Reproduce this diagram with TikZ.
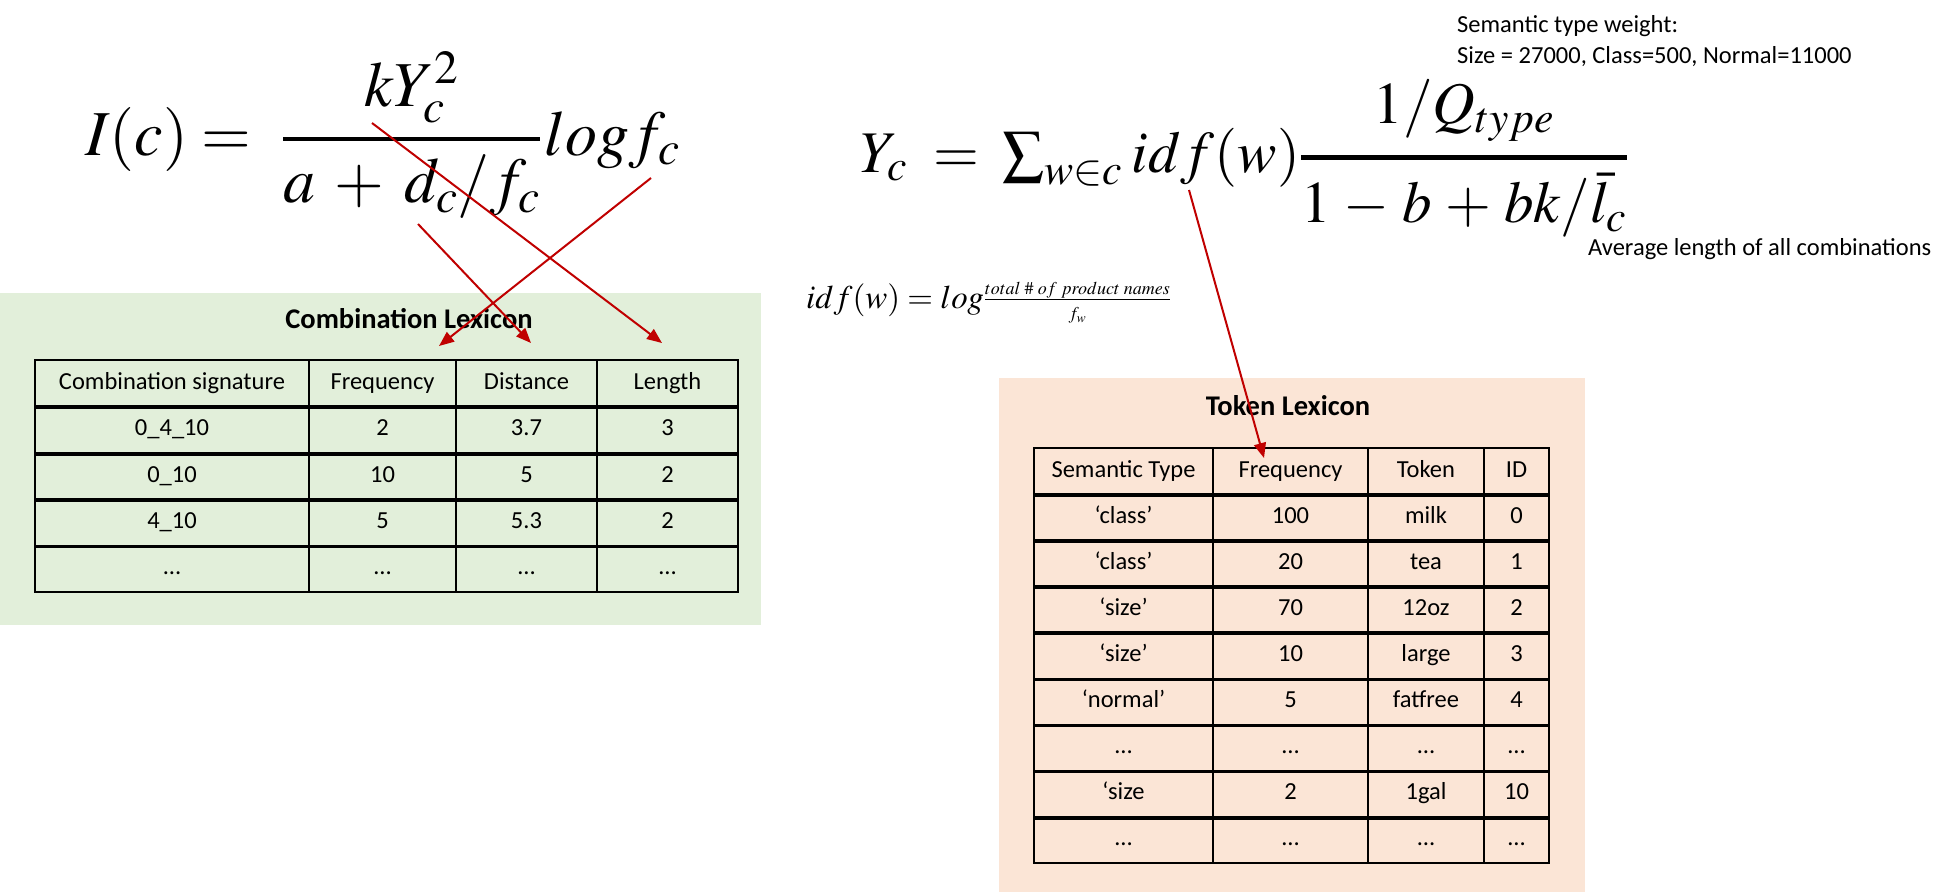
\documentclass[tikz,border=0pt]{standalone}
\usepackage{amsmath}
\usepackage{mathptmx}
\usepackage[no-math]{fontspec}
\setmainfont{Carlito}
\usetikzlibrary{arrows.meta}
\definecolor{arrred}{HTML}{C00000}
\definecolor{greenbg}{HTML}{E2EFDA}
\definecolor{orangebg}{HTML}{FBE5D6}
\tikzset{
  tcell/.style={draw=black, line width=2pt, inner sep=0pt, anchor=north west,
    text height=17pt, text depth=5pt, font=\fontsize{24.5}{28}\selectfont},
  sepline/.style={line width=3.5pt, black},
  redarrow/.style={draw=arrred, line width=2pt, -{Triangle[length=15pt,width=12pt]}},
  ttl/.style={font=\fontsize{28.5}{32}\selectfont\bfseries},
  note/.style={anchor=base west, inner sep=0pt, font=\fontsize{24.5}{28}\selectfont},
  mathI/.style={anchor=base west, inner sep=0pt, font=\fontsize{64}{76}\selectfont},
  mathY/.style={anchor=base west, inner sep=0pt, font=\fontsize{59}{70}\selectfont},
  smallmath/.style={anchor=base west, inner sep=0pt, font=\fontsize{33}{40}\selectfont},
  panel/.style={inner sep=0pt, anchor=north west, draw=none}
}
\newcommand{\numfont}[1]{\mbox{\fontsize{18}{20}\selectfont$#1$}}
\begin{document}
\begin{tikzpicture}[x=1pt,y=-1pt]
\useasboundingbox (0,0) rectangle (1956,892);
\fill[white] (0,0) rectangle (1956,892);

% panels
\node[panel, fill=greenbg, minimum width=761pt, minimum height=332pt] (greenpanel) at (0,293) {};
\node[panel, fill=orangebg, minimum width=586pt, minimum height=514pt] (orangepanel) at (999,378) {};

% titles
\node[ttl] (combtitle) at (409,319) {Combination Lexicon};
\node[ttl] (toktitle) at (1288,406) {Token Lexicon};

% combination table
\foreach \r/\a/\b/\c/\d in {0/Combination signature/Frequency/Distance/Length,
  1/0\_4\_10/2/3.7/3, 2/0\_10/10/5/2, 3/4\_10/5/5.3/2, 4/…/…/…/…}{
  \pgfmathsetmacro\yy{359+46.4*\r}
  \node[tcell, minimum width=274pt, minimum height=46.4pt] (cl-\r-1) at (34,\yy) {\a};
  \node[tcell, minimum width=147pt, minimum height=46.4pt] (cl-\r-2) at (308,\yy) {\b};
  \node[tcell, minimum width=141pt, minimum height=46.4pt] (cl-\r-3) at (455,\yy) {\c};
  \node[tcell, minimum width=141pt, minimum height=46.4pt] (cl-\r-4) at (596,\yy) {\d};
}
\foreach \r in {0,...,3}{
  \draw[sepline] (cl-\r-1.south west) -- (cl-\r-4.south east);
}

% token table
\foreach \r/\a/\b/\c/\d in {0/Semantic Type/Frequency/Token/ID,
  1/‘class’/100/milk/0, 2/‘class’/20/tea/1, 3/‘size’/70/12oz/2,
  4/‘size’/10/large/3, 5/‘normal’/5/fatfree/4, 6/…/…/…/…,
  7/‘size/2/1gal/10, 8/…/…/…/…}{
  \pgfmathsetmacro\yy{447+46.1*\r}
  \node[tcell, minimum width=179pt, minimum height=46.1pt] (tl-\r-1) at (1033,\yy) {\a};
  \node[tcell, minimum width=155pt, minimum height=46.1pt] (tl-\r-2) at (1212,\yy) {\b};
  \node[tcell, minimum width=116pt, minimum height=46.1pt] (tl-\r-3) at (1367,\yy) {\c};
  \node[tcell, minimum width=65pt, minimum height=46.1pt] (tl-\r-4) at (1483,\yy) {\d};
}
\foreach \r in {0,...,7}{
  \draw[sepline] (tl-\r-1.south west) -- (tl-\r-4.south east);
}

% formulas
\node[mathI] (icf) at (85,155)
  {$\displaystyle I(c) =\mskip4.5mu \genfrac{}{}{4.5pt}{0}{kY_c^2}{a \mskip3mu+\mskip3mu d_c/f_c}\mskip1mu log f_c$};
\node[mathY] (ycf) at (860,172)
  {$\displaystyle Y_c \mskip4mu=\mskip3mu {\textstyle\sum_{w\in c}}\mskip3mu idf(w)\genfrac{}{}{4.5pt}{0}{1/Q_{type}}{1 \mskip1.5mu-\mskip1.5mu b \mskip1.5mu+\mskip1.5mu bk/\bar{l}_c}$};
\node[smallmath] (idff) at (806,308)
  {$idf(w) = log\frac{\numfont{total\ \#\ of\ product\ names}}{\numfont{f_w}}$};

% notes
\node[note] (stw1) at (1457,32) {Semantic type weight:};
\node[note] (stw2) at (1457,63) {Size = 27000, Class=500, Normal=11000};
\node[note] (avg) at (1588,255) {Average length of all combinations};

% arrows
\coordinate (a1s) at (372,123);
\coordinate (a2s) at (651,178);
\coordinate (a3s) at (418,224);
\coordinate (a4s) at (1189,190);
\draw[redarrow] (a1s) -- ([shift={(-5.5,-16)}]cl-0-4.north);
\draw[redarrow] (a2s) -- ([shift={(-18,-13)}]cl-0-2.north east);
\draw[redarrow] (a3s) -- ([shift={(4.5,-16)}]cl-0-3.north);
\draw[redarrow] (a4s) -- ([shift={(52,11)}]tl-0-2.north west);
\end{tikzpicture}
\end{document}
